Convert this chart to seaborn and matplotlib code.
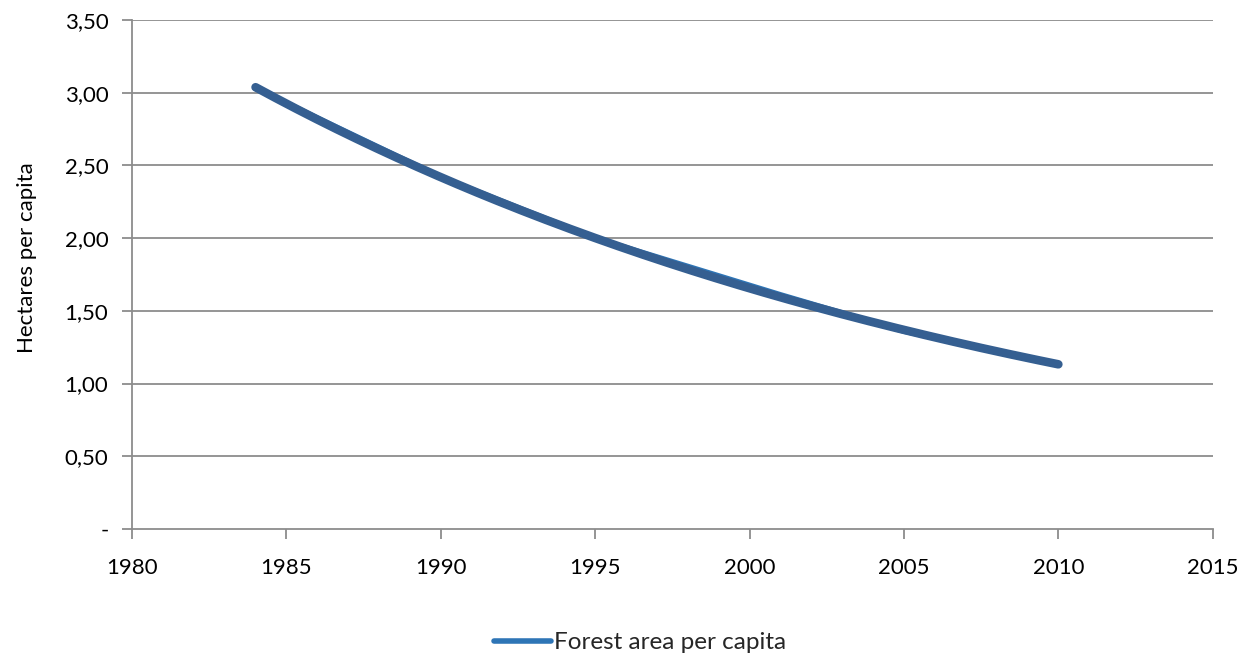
import numpy as np
import pandas as pd
import matplotlib
matplotlib.use("Agg")
import matplotlib.pyplot as plt
from matplotlib.ticker import FuncFormatter
import seaborn as sns

# Forest area per capita (hectares per person)
years = [1984, 1990, 1995, 2001, 2005, 2010]
hectares = [3.03, 2.42, 2.00, 1.61, 1.36, 1.13]

x_ticks = [1980, 1985, 1990, 1995, 2000, 2005, 2010, 2015]
y_ticks = [0.0, 0.5, 1.0, 1.5, 2.0, 2.5, 3.0, 3.5]

sns.set_theme(style="white")
plt.rcParams["font.family"] = ["Lato", "DejaVu Sans"]

df = pd.DataFrame({"year": years, "value": hectares})

fig = plt.figure(figsize=(12.4, 6.57), dpi=100)
ax = fig.add_axes([0.1065, 0.195, 0.8715, 0.7745])

grid_col = "#8c8c8c"
for y in y_ticks[1:]:
    ax.axhline(y, color=grid_col, lw=1.3, zorder=0)

sns.lineplot(data=df, x="year", y="value", ax=ax, color="#2E75B6", lw=4.0,
             solid_capstyle="round", label="Forest area per capita", zorder=3)

# Exponential trend fitted to the series
coef = np.polyfit(df["year"], np.log(df["value"]), 1)
tx = np.linspace(min(years), max(years), 200)
ax.plot(tx, np.exp(np.polyval(coef, tx)), color="#355F91", lw=6.2,
        solid_capstyle="round", zorder=4)

ax.set_xlim(1980, 2015)
ax.set_ylim(0, 3.5)
ax.set_xticks(x_ticks)
ax.set_yticks(y_ticks)
ax.yaxis.set_major_formatter(FuncFormatter(
    lambda v, p: "-" if abs(v) < 1e-9 else f"{v:.2f}".replace(".", ",")))

for side in ["top", "right"]:
    ax.spines[side].set_visible(False)
for side in ["left", "bottom"]:
    ax.spines[side].set_color(grid_col)
    ax.spines[side].set_linewidth(1.3)

ax.tick_params(axis="both", which="major", direction="out", length=7,
               width=1.3, color=grid_col, labelsize=16, labelcolor="black",
               pad=10, left=True, bottom=True)
ax.tick_params(axis="x", pad=14)

ax.set_xlabel("")
ax.set_ylabel("Hectares per capita", fontsize=16, color="black")
ax.yaxis.set_label_coords(-0.088, 0.534)

ax.legend(loc="center", bbox_to_anchor=(0.516, 0.022),
          bbox_transform=fig.transFigure, frameon=False,
          fontsize=17.5, handlelength=2.35, handletextpad=0.1)

fig.savefig("out.png", dpi=100)
